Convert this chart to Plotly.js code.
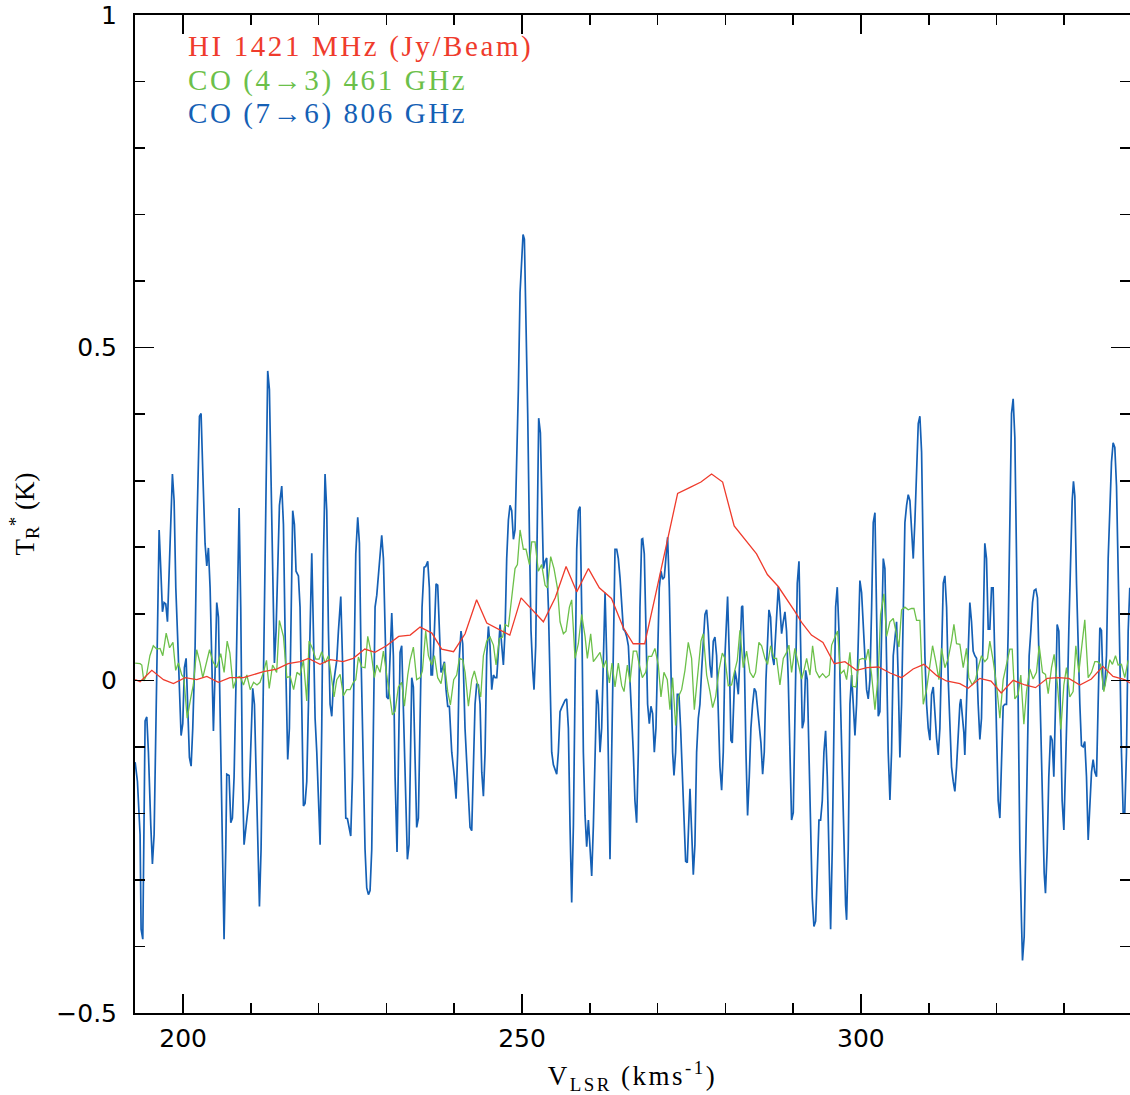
<!DOCTYPE html>
<html>
<head>
<meta charset="utf-8">
<script src="https://cdn.plot.ly/plotly-3.0.1.min.js"></script>
<style>
html,body{margin:0;padding:0;background:#fff;}
#chart{width:1130px;height:1095px;}
#chart .annotation-text{letter-spacing:2.6px;}
#chart .xtitle{letter-spacing:2.5px;}
</style>
</head>
<body>
<div id="chart"></div>
<script>
// HI 1421 MHz (Jy/Beam)
const vHI = [192.92,193.65,195.38,197.1,198.57,200.29,202.0,203.5,205.2,206.9,208.9,211.85,213.8,215.5,217.25,
 218.5,220.2,221.7,223.6,225.1,226.8,228.3,230.0,231.8,233.5,234.96,236.7,238.15,239.9,241.6,
 243.3,244.8,248.2,249.86,253.15,254.9,256.5,258.07,259.8,261.4,263.2,264.95,
 266.4,268.1,269.6,271.6,272.96,274.8,276.4,277.97,279.6,281.3,282.9,284.6,286.2,287.8,290.3,
 291.25,292.7,294.4,296.07,297.64,299.36,300.9,302.6,304.3,306.0,307.7,309.3,311.2,312.6,314.6,
 315.83,317.55,319.2,320.7,322.46,324.2,325.76,327.5,329.1,330.67,332.3,334.0,335.7,337.2,338.9,339.7];
const tHI = [0.001,-0.002,0.015,0.001,-0.005,0.004,0.001,0.006,-0.003,0.004,0.004,0.013,0.017,0.025,0.028,
 0.033,0.024,0.031,0.028,0.033,0.047,0.042,0.052,0.066,0.068,0.080,0.071,0.047,0.043,0.070,
 0.121,0.086,0.068,0.124,0.088,0.124,0.171,0.133,0.168,0.139,0.123,0.079,
 0.055,0.055,0.124,0.219,0.281,0.290,0.298,0.310,0.298,0.232,0.212,0.190,0.159,0.141,0.103,
 0.087,0.068,0.057,0.025,0.028,0.015,0.019,0.020,0.011,0.004,0.017,0.024,0.007,-0.001,-0.005,
 -0.012,0.003,-0.001,-0.019,0.000,-0.007,-0.011,0.003,0.004,0.003,-0.007,0.002,0.021,0.006,0.001,-0.004];

// CO (4-3) 461 GHz
const vCO43 = [192.92,193.65,193.9,194.2,194.6,195.1,195.6,196.1,196.6,197.0,197.5,198.0,198.5,198.9,199.3,199.8,200.1,200.6,201.1,201.5,
 202.0,202.5,202.9,203.4,203.9,204.4,204.96,205.55,206.05,206.5,206.9,207.4,207.9,208.4,208.9,209.4,209.9,210.4,210.9,211.35,
 211.85,212.3,212.7,213.2,213.8,214.2,214.8,215.3,215.8,216.3,216.8,217.25,
 217.75,218.24,218.58,219.08,219.57,220.06,220.45,220.94,221.44,221.83,222.27,222.67,223.16,223.65,224.14,224.63,225.12,225.47,225.86,226.35,
 226.84,227.24,227.73,228.22,228.57,229.06,229.55,230.04,230.53,230.88,231.27,231.76,232.25,232.65,233.14,233.48,233.97,234.46,234.96,235.3,
 235.79,236.19,236.68,237.07,237.56,238.05,238.55,239.04,239.43,239.92,240.36,240.76,241.25,241.6,
 242.09,242.58,242.97,243.42,243.91,244.3,244.79,245.28,245.78,246.17,246.66,247.15,247.5,247.99,248.48,248.97,249.32,249.71,250.2,250.59,
 251.09,251.43,251.92,252.41,252.9,253.4,253.74,254.23,254.72,255.22,255.61,256.1,256.49,256.99,257.33,257.82,258.31,258.8,259.3,259.64,
 260.13,260.53,261.02,261.51,262.0,262.39,262.89,263.28,263.72,264.21,264.71,265.05,265.54,265.93,
 266.42,266.91,267.25,267.75,268.24,268.63,269.12,269.61,270.11,270.5,270.94,271.43,271.83,272.22,272.66,273.06,273.55,274.04,274.53,275.02,
 275.42,275.91,276.4,276.74,277.24,277.73,278.12,278.56,279.05,279.55,279.94,280.43,280.92,281.32,281.76,282.15,282.64,283.13,283.63,284.12,
 284.46,284.95,285.35,285.84,286.23,286.68,287.17,287.56,288.05,288.55,289.04,289.38,289.77,290.26,
 290.76,291.25,291.6,291.99,292.48,292.87,293.36,293.86,294.35,294.84,295.33,295.68,296.17,296.56,297.0,297.5,297.89,298.38,298.77,299.26,
 299.76,300.25,300.74,301.08,301.58,302.07,302.56,302.9,303.39,303.79,304.28,304.77,305.16,305.61,306.0,306.49,306.98,307.47,307.82,308.21,
 308.7,309.2,309.69,310.18,310.57,311.01,311.51,311.9,312.39,312.88,313.37,313.72,314.11,314.6,
 315.09,315.58,315.92,316.42,316.91,317.4,317.79,318.28,318.68,319.02,319.51,320.01,320.5,320.99,321.48,321.97,322.32,322.71,323.2,323.59,
 324.04,324.43,324.92,325.41,325.9,326.3,326.79,327.23,327.63,328.12,328.51,329.0,329.5,329.94,330.33,330.82,331.31,331.71,332.15,332.64,
 333.03,333.53,334.02,334.51,334.9,335.35,335.84,336.23,336.72,337.11,337.56,337.95,338.44,338.93,339.43];
const tCO43 = [0.026,0.025,0.023,-0.001,0.008,0.037,0.052,0.047,0.048,0.037,0.071,0.049,0.057,0.015,0.026,0.008,0.004,-0.057,-0.028,-0.007,
 0.046,0.026,0.004,0.023,0.046,0.028,0.019,0.040,0.012,0.059,0.041,-0.012,0.004,0.006,-0.007,0.008,-0.014,-0.003,-0.007,-0.003,
 0.012,0.030,-0.012,0.023,0.012,0.090,0.066,0.004,0.006,-0.014,0.012,0.008,
 0.030,-0.031,0.059,0.048,0.032,0.032,0.043,0.026,0.037,0.008,-0.025,0.001,0.009,-0.023,-0.014,-0.014,-0.003,0.001,0.035,0.020,
 0.019,0.066,0.042,0.004,0.023,0.012,0.044,0.008,-0.025,-0.052,-0.047,-0.010,-0.003,-0.039,0.008,0.030,0.050,0.001,0.004,0.014,
 0.074,0.037,0.023,0.037,0.004,-0.005,0.026,-0.017,-0.037,0.001,0.008,0.033,0.031,0.012,
 -0.039,0.001,0.014,-0.007,-0.025,0.037,0.059,0.065,0.053,0.023,0.063,0.065,0.084,0.081,0.124,0.168,0.174,0.226,0.197,0.197,
 0.174,0.208,0.208,0.164,0.174,0.143,0.139,0.186,0.168,0.139,0.088,0.070,0.074,0.110,0.121,0.033,0.055,0.099,0.066,0.033,
 0.070,0.028,0.035,0.042,0.019,0.030,-0.004,0.026,-0.010,0.026,-0.008,-0.017,0.023,-0.003,
 0.044,0.044,0.026,0.004,0.012,0.036,0.036,0.048,0.023,-0.025,0.012,0.001,-0.044,0.004,-0.068,-0.025,-0.014,0.015,0.057,0.033,
 -0.044,0.008,0.059,0.070,0.008,-0.017,-0.041,-0.025,0.015,0.041,0.033,-0.008,-0.007,0.012,0.030,0.075,0.019,0.044,0.012,0.004,
 0.012,0.057,0.052,0.033,0.024,0.052,0.033,0.033,-0.007,0.033,0.042,0.053,0.012,0.048,
 0.023,0.002,0.015,0.033,0.008,0.052,0.014,0.004,0.010,0.004,0.008,0.053,0.065,0.074,0.010,0.015,0.001,0.042,-0.009,-0.010,
 0.031,0.033,0.031,0.047,0.008,-0.044,0.008,0.099,0.130,0.066,0.088,0.093,0.074,0.050,0.106,0.110,0.106,0.108,0.108,0.090,
 0.090,-0.036,-0.014,0.023,0.052,0.030,0.001,0.048,0.019,0.033,0.059,0.084,0.055,0.054,
 0.019,0.048,0.004,-0.007,0.001,0.023,0.037,0.028,0.033,0.059,0.030,-0.007,-0.057,0.001,0.024,0.047,0.047,-0.028,-0.021,0.008,
 -0.066,-0.017,0.017,0.002,0.012,0.052,0.012,0.009,-0.020,0.019,0.039,-0.007,-0.074,-0.007,0.019,-0.025,-0.017,0.052,0.012,0.060,
 0.091,0.004,0.012,0.028,0.028,0.024,-0.017,0.004,0.031,0.024,0.037,0.023,0.024,0.004,0.030];

// CO (7-6) 806 GHz
const vCO76 = [192.92,193.26,193.65,193.80,194.05,194.24,194.39,194.64,194.88,195.23,195.47,195.72,196.01,196.26,196.46,196.70,196.95,197.19,197.44,197.69,
 197.98,198.42,198.67,198.92,199.21,199.46,199.70,199.95,200.19,200.44,200.69,200.93,201.18,201.42,201.77,202.01,202.41,202.65,202.90,203.24,
 203.49,203.73,203.98,204.23,204.47,204.72,204.96,205.21,205.45,205.70,206.04,206.29,206.44,206.78,207.03,207.27,207.52,207.81,208.06,208.26,
 208.50,208.75,208.99,209.29,209.54,209.73,209.98,210.27,210.52,210.76,211.11,211.26,211.50,211.75,211.99,212.24,212.48,212.73,212.98,213.22,
 213.47,213.71,213.96,214.21,214.55,214.80,215.04,215.29,215.43,215.68,215.93,216.17,216.42,216.66,217.01,217.25,
 217.50,217.75,217.99,218.24,218.49,218.73,218.98,219.22,219.47,219.72,219.96,220.21,220.45,220.70,220.94,221.19,221.44,221.68,221.93,222.17,
 222.42,222.67,222.91,223.26,223.50,223.75,224.00,224.24,224.48,224.73,224.98,225.22,225.47,225.76,226.01,226.25,226.60,226.84,227.09,227.34,
 227.58,227.83,228.07,228.32,228.57,228.81,229.06,229.30,229.55,229.79,230.04,230.29,230.53,230.78,231.02,231.27,231.56,231.76,232.01,232.25,
 232.50,232.84,233.09,233.33,233.58,233.73,233.97,234.22,234.46,234.71,234.96,235.25,235.55,235.79,236.09,236.33,236.58,236.78,237.07,237.32,
 237.56,237.81,238.05,238.30,238.55,238.79,239.04,239.28,239.63,240.02,240.27,240.51,240.76,241.00,241.25,241.59,
 241.84,242.09,242.33,242.58,242.83,243.07,243.32,243.56,243.81,244.06,244.30,244.55,244.79,245.04,245.28,245.53,245.78,246.02,246.27,246.51,
 246.76,247.01,247.25,247.50,247.74,247.99,248.23,248.48,248.73,248.97,249.22,249.46,249.71,249.96,250.15,250.35,250.59,250.84,251.09,251.33,
 251.58,251.77,252.02,252.27,252.46,252.71,252.90,253.15,253.40,253.64,253.89,254.13,254.38,254.63,254.87,255.12,255.36,255.61,255.85,256.10,
 256.35,256.59,256.84,257.08,257.33,257.58,257.82,258.07,258.31,258.56,258.80,259.05,259.30,259.54,259.79,260.03,260.28,260.53,260.77,261.02,
 261.26,261.51,261.75,262.00,262.25,262.49,262.74,262.98,263.23,263.48,263.72,263.97,264.21,264.46,264.71,264.95,265.20,265.44,265.69,265.93,
 266.17,266.42,266.66,266.91,267.16,267.40,267.65,267.80,268.04,268.29,268.53,268.78,269.02,269.27,269.52,269.76,270.01,270.25,270.50,270.75,
 270.99,271.24,271.48,271.73,271.97,272.22,272.42,272.66,272.91,273.15,273.40,273.65,273.89,274.14,274.38,274.63,274.78,275.02,275.27,275.51,
 275.76,276.01,276.25,276.50,276.74,276.99,277.24,277.48,277.73,277.97,278.22,278.46,278.71,278.96,279.20,279.45,279.69,279.94,280.19,280.33,
 280.58,280.82,281.02,281.22,281.41,281.66,281.91,282.15,282.40,282.55,282.79,283.04,283.28,283.53,283.77,284.02,284.27,284.51,284.76,285.00,
 285.25,285.50,285.74,285.99,286.23,286.43,286.67,286.92,287.17,287.41,287.66,287.81,288.05,288.30,288.54,288.79,289.03,289.28,289.53,289.77,
 290.02,290.26,
 290.37,290.61,290.86,291.10,291.35,291.59,291.84,292.09,292.33,292.58,292.82,293.07,293.32,293.56,293.81,294.05,294.30,294.54,294.79,295.04,
 295.28,295.53,295.77,296.02,296.27,296.51,296.76,297.00,297.25,297.49,297.74,297.89,298.13,298.38,298.63,298.87,299.12,299.36,299.61,299.85,
 300.10,300.35,300.59,300.84,301.08,301.33,301.58,301.82,302.07,302.31,302.56,302.80,303.05,303.30,303.54,303.79,304.03,304.28,304.52,304.77,
 305.02,305.26,305.51,305.75,306.00,306.25,306.49,306.74,306.98,307.23,307.47,307.72,307.97,308.21,308.46,308.70,308.95,309.20,309.44,309.69,
 309.93,310.18,310.42,310.67,310.92,311.16,311.41,311.65,311.90,312.15,312.39,312.64,312.88,313.13,313.37,313.62,313.86,314.11,314.35,314.60,
 314.74,314.94,315.19,315.33,315.58,315.83,316.07,316.32,316.56,316.81,317.06,317.30,317.55,317.79,318.04,318.28,318.53,318.78,319.02,319.27,
 319.51,319.76,320.01,320.25,320.50,320.74,320.99,321.23,321.48,321.73,321.97,322.22,322.46,322.71,322.96,323.20,323.45,323.69,323.84,324.09,
 324.33,324.58,324.82,325.07,325.32,325.56,325.81,326.05,326.30,326.54,326.79,327.04,327.23,327.48,327.72,327.97,328.22,328.46,328.71,328.95,
 329.20,329.45,329.69,329.94,330.18,330.43,330.67,330.92,331.17,331.36,331.56,331.81,332.05,332.30,332.54,332.79,333.03,333.28,333.53,333.77,
 334.02,334.26,334.51,334.76,335.00,335.25,335.49,335.74,335.98,336.23,336.48,336.72,336.97,337.21,337.46,337.71,337.95,338.20,338.44,338.69,
 338.93,339.18,339.43,339.67];
const tCO76 = [-0.123,-0.152,-0.232,-0.374,-0.389,-0.239,-0.061,-0.055,-0.108,-0.218,-0.276,-0.232,-0.036,0.139,0.226,0.168,0.103,0.117,0.115,0.088,
 0.183,0.310,0.270,0.139,0.059,-0.021,-0.083,-0.065,0.019,0.033,-0.036,-0.116,-0.129,-0.072,0.052,0.219,0.397,0.401,0.314,0.205,
 0.172,0.199,0.139,0.037,-0.076,0.015,0.117,0.095,-0.036,-0.181,-0.389,-0.254,-0.141,-0.143,-0.214,-0.207,-0.145,0.001,0.190,0.259,
 0.110,-0.145,-0.247,-0.214,-0.196,-0.178,-0.108,-0.012,-0.036,-0.145,-0.312,-0.340,-0.254,-0.072,0.183,0.365,0.465,0.437,0.292,0.154,
 0.026,0.074,0.161,0.263,0.292,0.234,0.074,-0.036,-0.119,-0.072,0.074,0.255,0.234,0.164,0.157,0.110,
 -0.036,-0.189,-0.185,-0.152,-0.036,0.074,0.191,0.074,-0.057,-0.108,-0.181,-0.247,-0.072,0.183,0.310,0.255,0.074,-0.036,-0.054,-0.007,
 0.012,0.030,0.074,0.126,0.037,-0.108,-0.207,-0.208,-0.221,-0.234,-0.145,0.001,0.190,0.245,0.206,0.037,-0.138,-0.254,-0.312,-0.322,
 -0.316,-0.254,-0.072,0.110,0.128,0.157,0.183,0.218,0.183,0.074,-0.025,-0.028,0.037,0.101,0.037,-0.145,-0.258,-0.108,0.042,0.052,
 -0.036,-0.181,-0.269,-0.247,-0.108,0.004,-0.010,-0.108,-0.221,-0.207,-0.036,0.110,0.170,0.171,0.179,0.139,0.008,0.008,0.074,0.145,
 0.143,0.074,0.012,0.019,0.028,-0.014,-0.039,-0.039,-0.108,-0.145,-0.178,-0.108,0.037,0.074,0.055,-0.072,
 -0.123,-0.181,-0.221,-0.226,-0.145,-0.036,-0.005,-0.007,-0.036,-0.138,-0.174,-0.108,0.037,0.081,0.052,-0.014,0.008,0.004,0.004,0.052,
 0.084,0.052,0.023,0.074,0.183,0.241,0.263,0.255,0.212,0.226,0.328,0.437,0.583,0.648,0.670,0.663,0.547,0.401,0.219,0.074,
 0.015,-0.014,0.052,0.219,0.394,0.372,0.292,0.168,0.179,0.184,0.110,0.001,-0.108,-0.127,-0.134,-0.141,-0.108,-0.047,-0.041,-0.036,
 -0.030,-0.028,-0.072,-0.218,-0.334,-0.218,0.037,0.197,0.255,0.261,0.110,-0.108,-0.203,-0.250,-0.210,-0.254,-0.294,-0.218,-0.108,-0.014,
 -0.036,-0.108,-0.072,0.037,0.132,0.037,-0.108,-0.269,-0.108,0.074,0.197,0.197,0.183,0.154,0.117,0.077,0.074,0.066,0.052,0.001,
 -0.072,-0.108,-0.181,-0.214,-0.108,0.110,0.212,0.213,0.190,0.074,-0.036,-0.065,-0.039,-0.050,-0.108,-0.072,0.037,0.139,0.164,0.152,
 0.155,0.183,0.215,0.139,0.001,-0.108,-0.143,-0.108,-0.021,-0.021,-0.072,-0.145,-0.218,-0.272,-0.274,-0.181,-0.163,-0.225,-0.292,-0.247,
 -0.108,-0.057,-0.036,0.015,0.066,0.099,0.106,0.074,0.023,0.004,0.059,0.065,0.037,-0.036,-0.130,-0.165,-0.108,0.037,0.110,0.126,
 0.037,-0.090,-0.094,-0.021,0.015,0.001,-0.021,0.037,0.110,0.112,0.037,-0.108,-0.203,-0.145,-0.072,-0.036,-0.012,-0.017,-0.043,-0.057,
 -0.094,-0.141,-0.108,0.001,0.074,0.106,0.095,0.037,0.023,0.066,0.117,0.141,0.110,0.070,0.088,0.103,0.074,0.001,-0.108,-0.210,
 -0.199,-0.072,
 0.037,0.146,0.179,0.037,-0.072,-0.061,0.015,0.001,-0.108,-0.218,-0.327,-0.370,-0.362,-0.290,-0.210,-0.210,-0.181,-0.108,-0.076,-0.145,
 -0.254,-0.374,-0.254,-0.072,0.110,0.140,0.074,-0.036,-0.145,-0.254,-0.338,-0.360,-0.254,-0.036,0.008,-0.036,-0.083,-0.036,0.074,0.150,
 0.132,0.074,0.023,-0.014,-0.028,0.001,0.110,0.237,0.252,0.110,-0.054,-0.047,0.074,0.183,0.168,0.037,-0.108,-0.180,-0.108,0.037,
 0.070,0.088,0.001,-0.116,-0.036,0.110,0.237,0.263,0.279,0.270,0.219,0.183,0.241,0.328,0.386,0.397,0.343,0.183,0.037,-0.036,
 -0.072,-0.090,-0.021,-0.010,-0.057,-0.087,-0.112,-0.072,0.037,0.146,0.157,0.110,0.001,-0.072,-0.130,-0.152,-0.167,-0.130,-0.072,-0.036,
 -0.028,-0.050,-0.079,-0.112,-0.036,0.059,0.117,0.088,0.044,0.037,0.033,-0.036,-0.089,-0.057,0.074,0.206,0.183,0.077,0.077,0.139,
 0.139,0.037,-0.108,-0.181,-0.207,-0.108,-0.039,-0.036,-0.036,0.074,0.255,0.401,0.423,0.365,0.183,-0.036,-0.254,-0.363,-0.421,-0.385,
 -0.254,-0.108,0.037,0.074,0.117,0.135,0.137,0.124,0.037,-0.072,-0.181,-0.290,-0.320,-0.254,-0.145,-0.083,-0.090,-0.145,-0.036,0.084,
 0.074,-0.036,-0.181,-0.225,-0.145,-0.036,0.074,0.183,0.270,0.299,0.277,0.146,0.037,-0.036,-0.098,-0.100,-0.092,-0.145,-0.240,-0.181,
 -0.138,-0.119,-0.138,-0.145,-0.036,0.079,0.075,-0.014,-0.007,0.037,0.183,0.255,0.328,0.357,0.350,0.292,0.183,0.037,-0.108,-0.199,
 -0.199,-0.108,0.074,0.139];

const legendLabels = ['HI 1421 MHz (Jy/Beam)', 'CO (4\u21923) 461 GHz', 'CO (7\u21926) 806 GHz'];
const colors = ['#ef3b2c', '#6cc04a', '#1560b5'];

const traces = [
  {x: vCO76, y: tCO76, type: 'scatter', mode: 'lines', line: {color: colors[2], width: 1.7}, name: legendLabels[2]},
  {x: vCO43, y: tCO43, type: 'scatter', mode: 'lines', line: {color: colors[1], width: 1.3}, name: legendLabels[1]},
  {x: vHI, y: tHI, type: 'scatter', mode: 'lines', line: {color: colors[0], width: 1.3}, name: legendLabels[0]}
];

const tickFont = {family: 'DejaVu Sans, Verdana, sans-serif', size: 25, color: '#000'};
const titleFont = {family: 'Liberation Serif, Times New Roman, serif', size: 27, color: '#000'};

const layout = {
  width: 1130, height: 1095,
  margin: {l: 135, r: 0, t: 15, b: 82},
  paper_bgcolor: '#fff', plot_bgcolor: '#fff',
  showlegend: false,
  xaxis: {
    range: [192.9, 339.7], showgrid: false, zeroline: false,
    showline: true, linecolor: '#000', linewidth: 2, mirror: 'ticks',
    ticks: 'inside', ticklen: 19, tickwidth: 1.6, tickcolor: '#000',
    tick0: 0, dtick: 50, tickfont: tickFont, ticklabelstandoff: 2,
    minor: {dtick: 10, tick0: 0, ticks: 'inside', ticklen: 10, tickwidth: 1.6, tickcolor: '#000', showgrid: false},
    title: {text: 'V<sub>LSR</sub> (kms<sup>-1</sup>)', font: titleFont, standoff: 18}
  },
  yaxis: {
    range: [-0.5, 1], showgrid: false, zeroline: false,
    showline: true, linecolor: '#000', linewidth: 2, mirror: 'ticks',
    ticks: 'inside', ticklen: 19, tickwidth: 1.6, tickcolor: '#000',
    tick0: 0, dtick: 0.5, tickfont: tickFont, ticklabelstandoff: 11,
    minor: {dtick: 0.1, tick0: 0, ticks: 'inside', ticklen: 10, tickwidth: 1.6, tickcolor: '#000', showgrid: false},
    title: {text: 'T<sub>R</sub><sup>*</sup> (K)', font: titleFont, standoff: 14}
  },
  annotations: legendLabels.map((t, i) => ({
    text: t, xref: 'paper', yref: 'paper', x: 0.051, y: 0.968 - i * 0.0335,
    xanchor: 'left', yanchor: 'middle', align: 'left', showarrow: false,
    font: {family: 'Liberation Serif, Times New Roman, serif', size: 29, color: colors[i]}
  }))
};

Plotly.newPlot('chart', traces, layout, {displayModeBar: false, staticPlot: true});
</script>
</body>
</html>
